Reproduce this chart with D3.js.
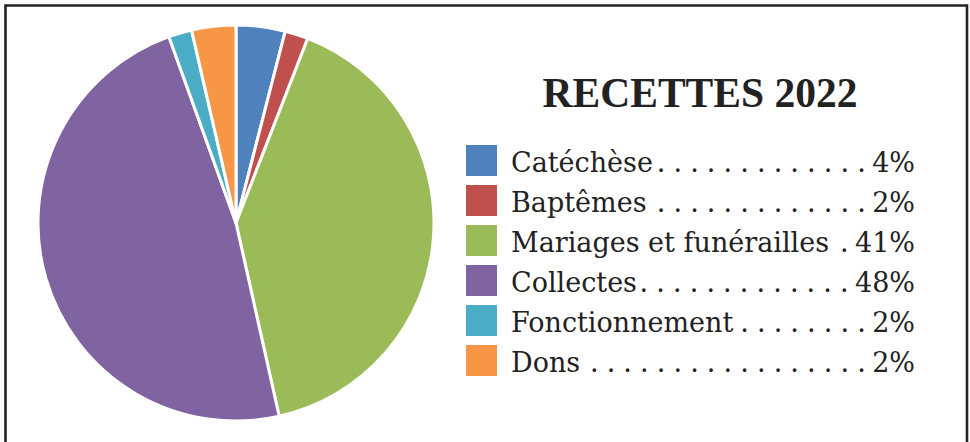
<!DOCTYPE html>
<html>
<head>
<meta charset="utf-8">
<script src="https://cdn.jsdelivr.net/npm/d3@7"></script>
<style>
  html, body { margin: 0; padding: 0; background: #fff; }
  svg { display: block; }
</style>
</head>
<body>
<svg id="chart" width="970" height="442"></svg>
<script>
const title = "RECETTES 2022";
const categories = ["Catéchèse", "Baptêmes", "Mariages et funérailles", "Collectes", "Fonctionnement", "Dons"];
const sliceValues = [4.0, 1.9, 40.6, 48.0, 1.9, 3.6];
const percentLabels = ["4%", "2%", "41%", "48%", "2%", "2%"];
const colors = ["#4F81BD", "#C0504D", "#9BBB59", "#8064A2", "#4BACC6", "#F79646"];

const svg = d3.select("#chart");

// frame
svg.append("path")
  .attr("d", "M5.5,442 L5.5,5.5 L967,5.5 L967,442")
  .attr("fill", "none")
  .attr("stroke", "#222")
  .attr("stroke-width", 2.6);

// pie
const cx = 236, cy = 223, r = 198;
const data = categories.map((c, i) => ({ cat: c, value: sliceValues[i], color: colors[i] }));
const pie = d3.pie().sort(null).value(d => d.value);
const arc = d3.arc().innerRadius(0).outerRadius(r);
const g = svg.append("g").attr("transform", `translate(${cx},${cy})`);
g.selectAll("path").data(pie(data)).join("path")
  .attr("d", arc)
  .attr("fill", d => d.data.color)
  .attr("stroke", "#fff")
  .attr("stroke-width", 3)
  .attr("stroke-linejoin", "round");

// title
svg.append("text")
  .attr("x", 700).attr("y", 107)
  .attr("text-anchor", "middle")
  .attr("font-family", "'Liberation Serif', 'Times New Roman', serif")
  .attr("font-weight", "bold")
  .attr("font-size", 41.5)
  .attr("fill", "#222")
  .text(title);

// legend
const legendY = d3.scaleBand().domain(categories).range([145, 385]).paddingInner(0);
const font = "'DejaVu Serif', serif";
const fs = 27;
const rightX = 915;
const lg = svg.append("g");
categories.forEach((c, i) => {
  const y0 = legendY(c);
  lg.append("rect")
    .attr("x", 466).attr("y", y0)
    .attr("width", 31).attr("height", 31)
    .attr("fill", colors[i]);
  const base = y0 + 27;
  const lab = lg.append("text")
    .attr("x", 511).attr("y", base)
    .attr("font-family", font).attr("font-size", fs)
    .attr("fill", "#222")
    .text(c);
  const pct = lg.append("text")
    .attr("x", rightX).attr("y", base)
    .attr("text-anchor", "end")
    .attr("font-family", font).attr("font-size", fs)
    .attr("fill", "#222")
    .text(percentLabels[i]);
  const labEnd = 511 + lab.node().getComputedTextLength();
  const pctStart = rightX - pct.node().getComputedTextLength();
  const step = 16.7;
  for (let x = pctStart - 15; x >= labEnd + 2; x -= step) {
    lg.append("text")
      .attr("x", x).attr("y", base)
      .attr("font-family", font).attr("font-size", fs)
      .attr("fill", "#222")
      .text(".");
  }
});
</script>
</body>
</html>
